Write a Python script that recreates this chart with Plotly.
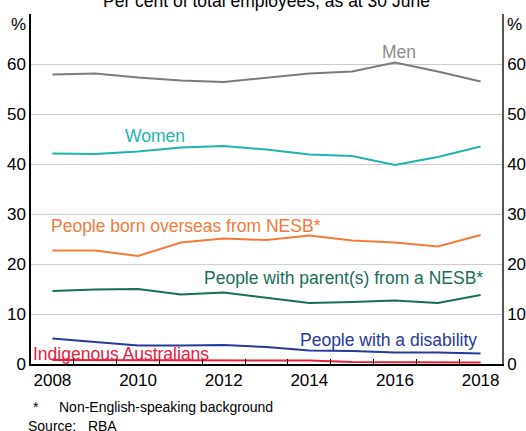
import plotly.graph_objects as go

# Staff diversity, per cent of total employees as at 30 June
years = list(range(2008, 2019))
men = [57.9, 58.1, 57.3, 56.7, 56.4, 57.3, 58.1, 58.5, 60.3, 58.5, 56.5]
women = [42.1, 42.0, 42.5, 43.3, 43.6, 42.9, 41.9, 41.6, 39.8, 41.4, 43.5]
overseas_nesb = [22.7, 22.7, 21.6, 24.3, 25.1, 24.8, 25.7, 24.7, 24.3, 23.5, 25.8]
parent_nesb = [14.6, 14.9, 15.0, 13.9, 14.3, 13.3, 12.2, 12.4, 12.7, 12.2, 13.8]
disability = [5.1, 4.4, 3.7, 3.7, 3.8, 3.4, 2.7, 2.6, 2.3, 2.3, 2.1]
indigenous = [0.8, 0.8, 0.8, 0.8, 0.8, 0.8, 0.7, 0.4, 0.4, 0.4, 0.3]

year_labels = [2008, 2010, 2012, 2014, 2016, 2018]
y_ticks = [0, 10, 20, 30, 40, 50, 60]

series = [
    ("Men", men, "#7b7b7b", "#8c8c8c"),
    ("Women", women, "#1fb3ad", "#1fb3ad"),
    ("People born overseas from NESB*", overseas_nesb, "#f47a3a", "#f47a3a"),
    ("People with parent(s) from a NESB*", parent_nesb, "#1b6c58", "#1b6c58"),
    ("People with a disability", disability, "#26399a", "#26399a"),
    ("Indigenous Australians", indigenous, "#e8203c", "#e8203c"),
]

# label positions (x in years, y in %)
label_pos = {
    "Men": (2016.1, 62.4, "center"),
    "Women": (2010.4, 45.6, "center"),
    "People born overseas from NESB*": (2007.93, 27.6, "left"),
    "People with parent(s) from a NESB*": (2018.1, 17.2, "right"),
    "People with a disability": (2017.97, 4.8, "right"),
    "Indigenous Australians": (2007.5, 2.0, "left"),
}

FONT = "Liberation Sans, Arial, sans-serif"

fig = go.Figure()
for name, vals, color, _ in series:
    fig.add_trace(go.Scatter(x=years, y=vals, mode="lines", name=name,
                             line=dict(color=color, width=2)))
# invisible trace to pin the right-hand axis
fig.add_trace(go.Scatter(x=years, y=men, yaxis="y2", mode="lines",
                         line=dict(width=0), hoverinfo="skip", showlegend=False))

annotations = []
for name, vals, _, lab_color in series:
    x, y, anchor = label_pos[name]
    annotations.append(dict(x=x, y=y, xref="x", yref="y", text=name, showarrow=False,
                            xanchor=anchor, yanchor="middle",
                            font=dict(size=17.5, color=lab_color, family=FONT)))

annotations += [
    dict(x=0.5, y=1, xref="paper", yref="paper", yanchor="bottom", yshift=1,
         text="Per cent of total employees, as at 30 June", showarrow=False,
         font=dict(size=17.5, color="black", family=FONT)),
    dict(x=0, y=1, xref="paper", yref="paper", xanchor="right", yanchor="top",
         xshift=-3, yshift=1, text="%", showarrow=False,
         font=dict(size=17, color="black", family=FONT)),
    dict(x=1, y=1, xref="paper", yref="paper", xanchor="left", yanchor="top",
         xshift=3, yshift=1, text="%", showarrow=False,
         font=dict(size=17, color="black", family=FONT)),
    dict(x=0, y=0, xref="paper", yref="paper", xanchor="left", yanchor="middle",
         yshift=-43, text="*", showarrow=False,
         font=dict(size=14, color="black", family=FONT)),
    dict(x=0, y=0, xref="paper", yref="paper", xanchor="left", yanchor="middle",
         xshift=26, yshift=-43, text="Non-English-speaking background", showarrow=False,
         font=dict(size=14, color="black", family=FONT)),
    dict(x=0, y=0, xref="paper", yref="paper", xanchor="left", yanchor="middle",
         xshift=-5, yshift=-62, text="Source:&nbsp;&nbsp;&nbsp;RBA", showarrow=False,
         font=dict(size=14, color="black", family=FONT)),
]

fig.update_layout(
    width=526, height=431,
    margin=dict(l=31, r=24, t=14, b=67, autoexpand=False),
    paper_bgcolor="white", plot_bgcolor="white",
    showlegend=False,
    font=dict(family=FONT, size=17, color="black"),
    annotations=annotations,
    xaxis=dict(
        range=[2007.5, 2018.5], tickmode="array", tickvals=year_labels,
        ticks="", showgrid=False, zeroline=False, automargin=False,
        showline=True, linecolor="black", linewidth=1.5, mirror=False,
        tickfont=dict(size=17),
        minor=dict(tickmode="array", tickvals=[y + 0.5 for y in years[:-1]],
                   ticks="inside", ticklen=5, tickcolor="black", tickwidth=1,
                   showgrid=False),
    ),
    xaxis2=dict(range=[2007.5, 2018.5], overlaying="x", side="top", automargin=False,
                showticklabels=False, ticks="", showgrid=False, zeroline=False,
                showline=True, linecolor="#666666", linewidth=1.5),
    yaxis=dict(
        range=[0, 70], tickmode="array", tickvals=y_ticks, automargin=False,
        showgrid=True, gridcolor="#cccccc", gridwidth=1, zeroline=False,
        showline=True, linecolor="black", linewidth=1.5, ticks="",
        tickfont=dict(size=17),
    ),
    yaxis2=dict(
        range=[0, 70], tickmode="array", tickvals=y_ticks, overlaying="y",
        side="right", showgrid=False, zeroline=False, automargin=False,
        showline=True, linecolor="#555555", linewidth=1.5, ticks="",
        tickfont=dict(size=17),
    ),
)

# drop the page's default 8px body margin so the figure sits at the corner
fig.write_html("out.html", config={"displayModeBar": False},
               post_script="document.body.style.margin='0';")
